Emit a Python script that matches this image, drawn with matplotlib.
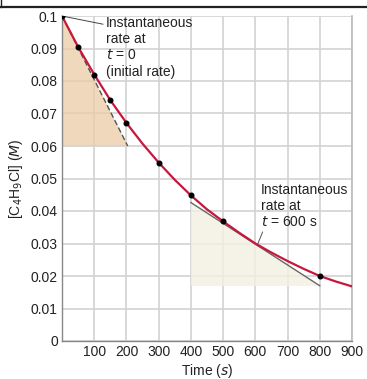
import matplotlib
matplotlib.use("Agg")
import matplotlib.pyplot as plt
from matplotlib.lines import Line2D

plt.rcParams['font.family'] = ['Liberation Sans', 'DejaVu Sans']

# measured data points
time_s = [0, 50, 100, 150, 200, 300, 400, 500, 800]
conc_M = [0.1000, 0.0905, 0.0820, 0.0741, 0.0671, 0.0549, 0.0448, 0.0368, 0.0200]

# smooth curve values
curve_t = [0, 50, 100, 150, 200, 250, 300, 350, 400, 450, 500, 550, 600, 650, 700, 750, 800, 850, 900]
curve_c = [0.1000, 0.0905, 0.0820, 0.0741, 0.0671, 0.0607, 0.0549, 0.0496, 0.0448, 0.0405,
           0.0368, 0.0333, 0.0300, 0.0272, 0.0246, 0.0222, 0.0200, 0.0183, 0.0168]

# tangent at t = 0
tan0_t = [0, 204]
tan0_c = [0.1000, 0.0600]
# tangent at t = 600 s
tan600_t = [400, 800]
tan600_c = [0.0426, 0.0170]

x_ticks = [100, 200, 300, 400, 500, 600, 700, 800, 900]
y_ticks = [0, 0.01, 0.02, 0.03, 0.04, 0.05, 0.06, 0.07, 0.08, 0.09, 0.1]
y_labels = ['0', '0.01', '0.02', '0.03', '0.04', '0.05', '0.06', '0.07', '0.08', '0.09', '0.1']

FS = 10

fig = plt.figure(figsize=(3.67, 3.79), dpi=100)
ax = fig.add_axes([62/367, 1 - 341/379, 290/367, 325/379])

ax.set_xlim(0, 900)
ax.set_ylim(0, 0.1)
ax.set_xticks(x_ticks)
ax.set_yticks(y_ticks)
ax.set_yticklabels(y_labels)
ax.grid(True, color='#d2d2d2', linewidth=1.2, zorder=0)
ax.set_axisbelow(True)
ax.tick_params(length=0, labelsize=FS, pad=3, colors='#222222')
for side in ['left', 'bottom']:
    ax.spines[side].set_color('#888888')
    ax.spines[side].set_linewidth(1.0)
ax.spines['top'].set_visible(False)
ax.spines['right'].set_color('#bbbbbb')
ax.spines['right'].set_linewidth(1.2)

# shaded triangles
ax.fill([tan0_t[0], tan0_t[0], tan0_t[1]], [tan0_c[0], tan0_c[1], tan0_c[1]],
        color='#ecccA6', alpha=0.75, lw=0, zorder=1)
ax.fill([tan600_t[0], tan600_t[0], tan600_t[1]], [tan600_c[0], tan600_c[1], tan600_c[1]],
        color='#f3f1e2', alpha=0.8, lw=0, zorder=1)

# tangent lines
ax.plot(tan0_t, tan0_c, color='#555555', lw=1.0, ls=(0, (4, 2)), zorder=2)
ax.plot(tan600_t, tan600_c, color='#666666', lw=1.0, zorder=2)

# curve and points
ax.plot(curve_t, curve_c, color='#c8173c', lw=1.6, zorder=3, solid_capstyle='round')
ax.plot(time_s, conc_M, 'o', color='black', ms=3.3, zorder=4)

# annotations
ax.annotate('Instantaneous\nrate at\n$t$ = 0\n(initial rate)', xy=(0, 0.1), xytext=(136, 0.1),
            fontsize=FS, va='top', ha='left', linespacing=1.2, color='#222222',
            arrowprops=dict(arrowstyle='-', color='#444444', lw=0.7, shrinkA=0, shrinkB=0,
                            relpos=(0, 0.86)))
ax.annotate('Instantaneous\nrate at\n$t$ = 600 s', xy=(606, 0.0295), xytext=(618, 0.0487),
            fontsize=FS, va='top', ha='left', linespacing=1.2, color='#222222',
            arrowprops=dict(arrowstyle='-', color='#555555', lw=0.7, shrinkA=0, shrinkB=0,
                            relpos=(0.03, 0.0)))

ax.set_xlabel('Time ($s$)', fontsize=FS, labelpad=2, color='#222222')
ax.set_ylabel('[C$_4$H$_9$Cl] ($M$)', fontsize=FS, labelpad=4, color='#222222')

# frame fragment at top of image
fig.add_artist(Line2D([0, 1], [1 - 7/379, 1 - 7/379], transform=fig.transFigure,
                      color='#222222', lw=1.6))
fig.add_artist(Line2D([0.5/367, 0.5/367], [1, 1 - 7/379], transform=fig.transFigure,
                      color='#222222', lw=1.0))

fig.savefig('out.png', dpi=100)
